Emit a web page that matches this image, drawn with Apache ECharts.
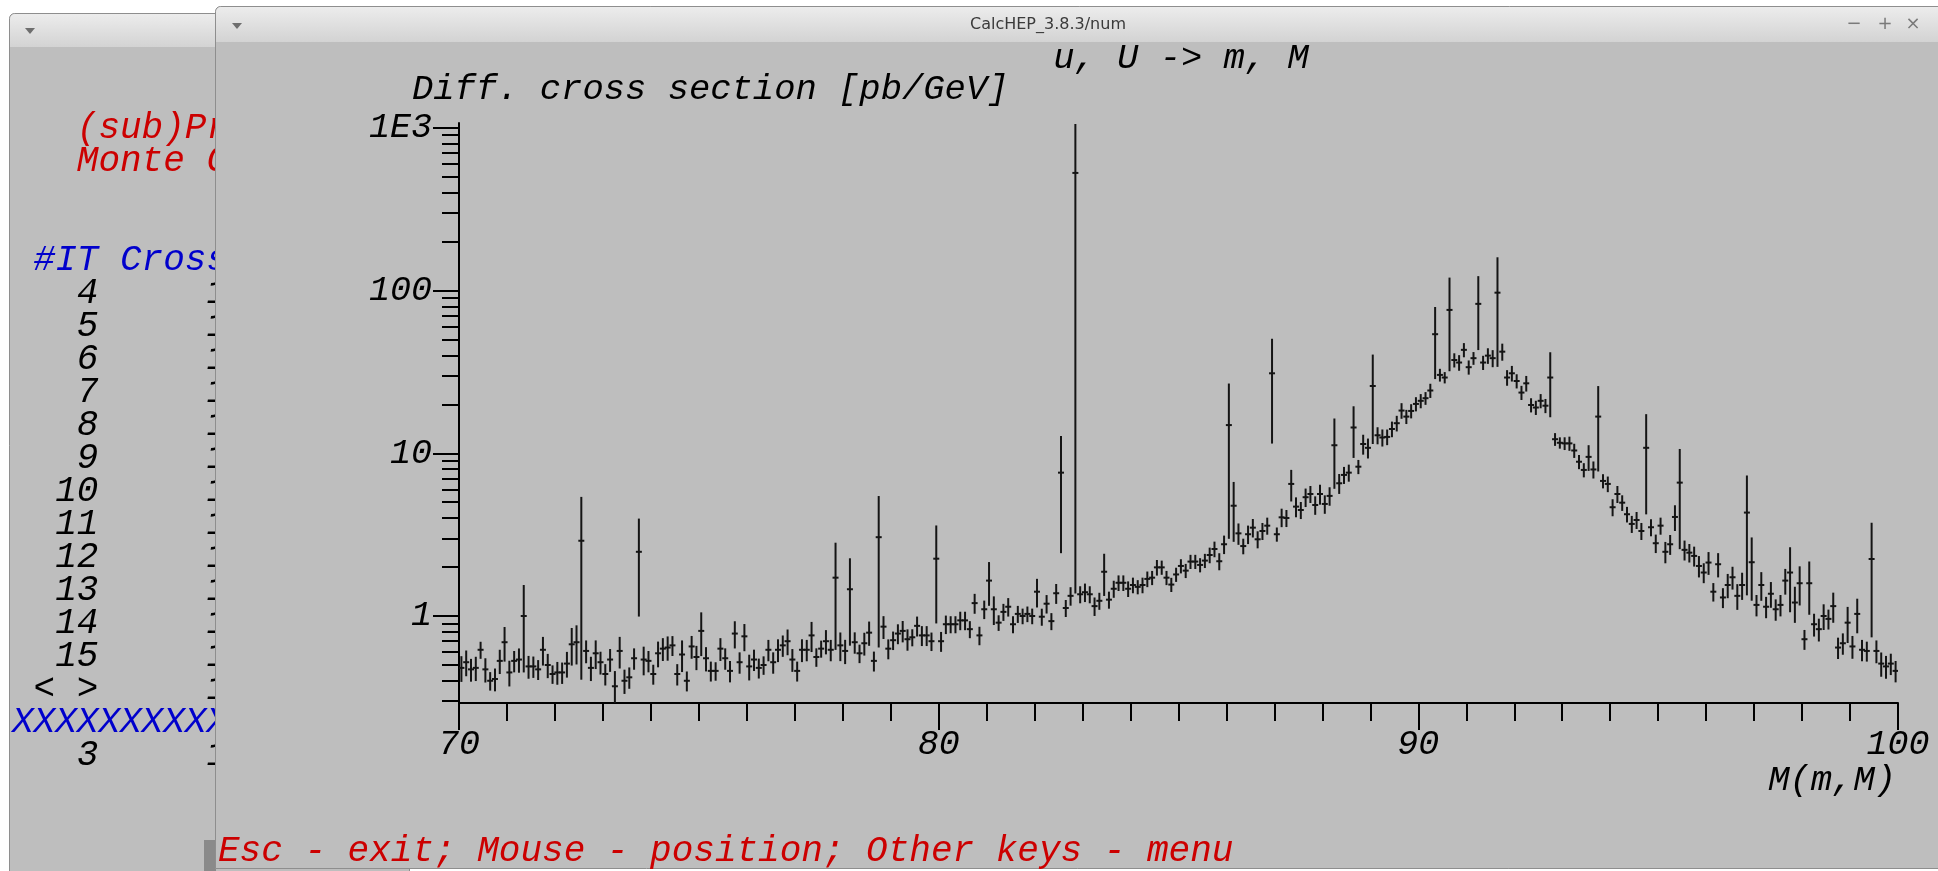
<!DOCTYPE html>
<html>
<head>
<meta charset="utf-8">
<title>CalcHEP_3.8.3/num</title>
<script src="https://cdn.jsdelivr.net/npm/echarts@6/dist/echarts.min.js"></script>
<style>
  html, body { margin: 0; padding: 0; background: #ffffff; }
  #chart { width: 1938px; height: 871px; }
</style>
</head>
<body>
<div id="chart"></div>
<script>
// histogram of M(m,M), 300 bins between 70 and 100 GeV
const massRange = [70, 100]

// Diff. cross section [pb/GeV], one value per bin
const crossSection = [
  0.48, 0.52, 0.47, 0.48, 0.62, 0.47, 0.40, 0.41, 0.53, 0.69,
  0.45, 0.53, 0.54, 1.00, 0.49, 0.49, 0.47, 0.62, 0.50, 0.44,
  0.45, 0.45, 0.51, 0.67, 0.69, 2.90, 0.61, 0.48, 0.59, 0.52,
  0.44, 0.54, 0.37, 0.61, 0.40, 0.42, 0.55, 2.48, 0.54, 0.53,
  0.44, 0.59, 0.63, 0.64, 0.66, 0.44, 0.58, 0.40, 0.65, 0.56,
  0.81, 0.55, 0.46, 0.46, 0.63, 0.55, 0.46, 0.78, 0.52, 0.75,
  0.49, 0.54, 0.48, 0.50, 0.62, 0.52, 0.62, 0.66, 0.70, 0.54,
  0.46, 0.62, 0.62, 0.76, 0.56, 0.63, 0.70, 0.62, 1.72, 0.66,
  0.61, 1.46, 0.69, 0.59, 0.68, 0.79, 0.53, 3.05, 0.86, 0.63,
  0.71, 0.78, 0.81, 0.72, 0.74, 0.87, 0.76, 0.76, 0.70, 2.25,
  0.70, 0.89, 0.89, 0.89, 0.94, 0.94, 0.83, 1.20, 0.76, 1.10,
  1.65, 1.10, 0.91, 1.06, 1.14, 0.89, 1.03, 1.00, 1.03, 1.00,
  1.41, 0.99, 1.19, 0.93, 1.38, 7.60, 1.12, 1.33, 528, 1.36,
  1.40, 1.36, 1.15, 1.24, 1.87, 1.26, 1.47, 1.60, 1.60, 1.47,
  1.55, 1.51, 1.55, 1.69, 1.72, 1.99, 1.99, 1.72, 1.56, 1.80,
  2.03, 1.90, 2.16, 2.16, 2.06, 2.19, 2.37, 2.58, 2.17, 2.76,
  14.9, 4.76, 3.22, 2.69, 3.18, 3.49, 2.96, 3.33, 3.59, 31.0,
  3.18, 4.04, 4.00, 6.48, 4.70, 4.48, 5.37, 5.62, 4.81, 5.62,
  4.88, 5.47, 11.2, 6.54, 7.36, 7.60, 14.4, 8.27, 11.4, 10.8,
  25.9, 12.9, 12.5, 12.6, 14.1, 15.3, 18.3, 16.8, 18.2, 20.1,
  21.0, 21.8, 24.3, 53.9, 30.3, 29.2, 76.0, 37.4, 36.1, 43.2,
  33.8, 38.4, 82.8, 36.1, 39.8, 38.4, 97.0, 42.1, 29.2, 31.0,
  27.8, 23.6, 26.9, 19.8, 19.1, 21.0, 19.6, 29.2, 12.2, 11.6,
  11.5, 11.5, 10.4, 8.87, 7.90, 9.50, 7.95, 16.8, 6.76, 6.48,
  4.66, 5.62, 4.97, 4.22, 3.68, 3.89, 3.33, 10.8, 3.51, 2.80,
  3.59, 2.48, 2.76, 4.06, 6.60, 2.55, 2.45, 2.34, 2.03, 1.85,
  2.13, 1.41, 2.08, 1.30, 1.55, 1.73, 1.33, 1.55, 4.32, 2.14,
  1.17, 1.55, 1.14, 1.37, 1.10, 1.17, 1.65, 1.85, 1.21, 1.59,
  0.72, 1.59, 0.89, 0.83, 1.00, 0.96, 1.15, 0.64, 0.68, 0.91,
  0.65, 1.03, 0.62, 0.61, 2.24, 0.61, 0.51, 0.49, 0.51, 0.46
]

// error of each bin in percent of its value
const relErrorPct = [
  18, 18, 16, 17, 12, 17, 13, 16, 17, 24,
  18, 15, 17, 55, 16, 15, 14, 20, 17, 13,
  16, 15, 18, 26, 27, 86, 16, 17, 20, 16,
  15, 16, 24, 22, 17, 15, 15, 60, 20, 15,
  14, 18, 16, 17, 14, 15, 22, 14, 16, 17,
  30, 17, 14, 13, 16, 15, 15, 19, 15, 19,
  18, 15, 14, 13, 15, 15, 16, 15, 18, 16,
  14, 16, 15, 21, 13, 12, 17, 15, 64, 20,
  17, 55, 15, 13, 16, 17, 14, 79, 16, 14,
  13, 14, 15, 15, 12, 14, 14, 14, 13, 60,
  14, 13, 12, 12, 13, 13, 12, 14, 13, 13,
  30, 20, 11, 12, 13, 12, 12, 11, 11, 11,
  20, 12, 13, 12, 14, 68, 12, 13, 99.74, 12,
  13, 12, 13, 12, 29, 12, 12, 11, 11, 11,
  11, 10, 11, 11, 10, 11, 10, 10, 10, 10,
  10, 10, 10, 10, 10, 10, 11, 11, 12, 13,
  80, 40, 15, 11, 13, 13, 12, 12, 12, 63,
  10, 13, 12, 22, 14, 12, 13, 12, 13, 14,
  13, 13, 46, 14, 12, 12, 35, 10, 14, 14,
  56, 12, 12, 11, 11, 11, 11, 10, 10, 10,
  10, 9, 10, 47, 9, 8, 58, 10, 11, 10,
  10, 9, 48, 10, 11, 12, 65, 12, 11, 11,
  10, 10, 11, 10, 10, 10, 10, 43, 9, 8,
  9, 10, 10, 10, 10, 18, 12, 54, 10, 11,
  12, 12, 11, 11, 12, 12, 12, 61, 12, 13,
  12, 15, 14, 18, 61, 14, 13, 14, 15, 14,
  16, 13, 17, 14, 17, 16, 18, 19, 69, 42,
  15, 20, 15, 18, 15, 15, 18, 43, 25, 27,
  14, 36, 16, 16, 18, 14, 21, 15, 15, 25,
  16, 24, 15, 14, 67, 16, 17, 16, 15, 15
]

// axes
const xMajorTicks = [70, 80, 90, 100]
const xMinorTicks = [71, 72, 73, 74, 75, 76, 77, 78, 79, 81, 82, 83, 84, 85, 86, 87, 88, 89,
  91, 92, 93, 94, 95, 96, 97, 98, 99]
const yRange = [0.292, 1070]
const yDecades = [1, 10, 100, 1000]
const yDecadeLabels = ['1', '10', '100', '1E3']
const yMinorTicks = [0.3, 0.4, 0.5, 0.6, 0.7, 0.8, 0.9,
  2, 3, 4, 5, 6, 7, 8, 9,
  20, 30, 40, 50, 60, 70, 80, 90,
  200, 300, 400, 500, 600, 700, 800, 900]

// texts of the terminal windows
const plotTitle = 'u, U -> m, M'
const yTitle = 'Diff. cross section [pb/GeV]'
const xTitle = 'M(m,M)'
const hintLine = 'Esc - exit; Mouse - position; Other keys - menu'
const windowTitle = 'CalcHEP_3.8.3/num'
const sessionLines = [
  { row: 0, color: '#cc0000', text: '   (sub)Process: u, U -> m, M' },
  { row: 1, color: '#cc0000', text: '   Monte Carlo session: 3(continue)' },
  { row: 4, color: '#0000cc', text: ' #IT Cross section [pb]  Error[%]' },
  { row: 5, color: '#000000', text: '   4     1.0552E+00     0.83' },
  { row: 6, color: '#000000', text: '   5     1.0541E+00     0.79' },
  { row: 7, color: '#000000', text: '   6     1.0577E+00     0.81' },
  { row: 8, color: '#000000', text: '   7     1.0569E+00     0.80' },
  { row: 9, color: '#000000', text: '   8     1.0560E+00     0.78' },
  { row: 10, color: '#000000', text: '   9     1.0548E+00     0.80' },
  { row: 11, color: '#000000', text: '  10     1.0571E+00     0.79' },
  { row: 12, color: '#000000', text: '  11     1.0566E+00     0.81' },
  { row: 13, color: '#000000', text: '  12     1.0553E+00     0.80' },
  { row: 14, color: '#000000', text: '  13     1.0562E+00     0.79' },
  { row: 15, color: '#000000', text: '  14     1.0558E+00     0.80' },
  { row: 16, color: '#000000', text: '  15     1.0564E+00     0.79' },
  { row: 17, color: '#000000', text: ' < >     1.0561E+00     0.21' },
  { row: 18, color: '#0000cc', text: 'XXXXXXXXXXXXXXXXXXXXXXXXXXXXXX' },
  { row: 19, color: '#000000', text: '   3     1.0561E+00     0.21' }
]

const MONO_FAMILY = '"Liberation Mono", "DejaVu Sans Mono", monospace'
const GRAY = '#bebebe'

const chart = echarts.init(document.getElementById('chart'), null, { renderer: 'canvas' })

const binWidth = (massRange[1] - massRange[0]) / crossSection.length
const points = crossSection.map((v, i) => {
  const err = v * relErrorPct[i] / 100
  return [
    massRange[0] + (i + 0.5) * binWidth,
    Math.log10(v),
    Math.log10(v - err),
    Math.log10(v + err)
  ]
})

function renderErrorCross(params, api) {
  const x = api.value(0)
  const mid = api.coord([x, api.value(1)])
  const lo = api.coord([x, api.value(2)])
  const hi = api.coord([x, api.value(3)])
  const halfW = api.size([binWidth, 0])[0] / 2 + 0.6
  const style = { stroke: '#141414', lineWidth: 2 }
  return {
    type: 'group',
    children: [
      { type: 'line', shape: { x1: mid[0], y1: lo[1], x2: mid[0], y2: hi[1] }, style: style },
      { type: 'line', shape: { x1: mid[0] - halfW, y1: mid[1], x2: mid[0] + halfW, y2: mid[1] }, style: style }
    ]
  }
}

function monoText(x, y, text, color, align, z, size) {
  return {
    type: 'text', x: x, y: y, z: z,
    style: {
      text: text, font: 'italic ' + (size || 35.5) + 'px ' + MONO_FAMILY, fill: color,
      align: align, textAlign: align,
      verticalAlign: 'middle', textVerticalAlign: 'middle'
    }
  }
}

function sansText(x, y, text, size, color) {
  return {
    type: 'text', z: -88, x: x, y: y,
    style: { text: text, font: size + 'px "DejaVu Sans", sans-serif', fill: color,
      align: 'center', textAlign: 'center', verticalAlign: 'middle', textVerticalAlign: 'middle' }
  }
}

const titleGradient = () => new echarts.graphic.LinearGradient(0, 0, 0, 1, [
  { offset: 0, color: '#ececec' },
  { offset: 1, color: '#d3d3d3' }
])

const graphics = [
  // back window
  { type: 'rect', z: -100, shape: { x: 9.5, y: 13.5, width: 400, height: 900, r: [5, 5, 0, 0] },
    style: { fill: GRAY, stroke: '#8e8e8e', lineWidth: 1 } },
  { type: 'rect', z: -99, shape: { x: 10, y: 14, width: 399, height: 33, r: [5, 5, 0, 0] },
    style: { fill: titleGradient() } },
  { type: 'polygon', z: -98, shape: { points: [[25, 28], [35, 28], [30, 34]] }, style: { fill: '#6e6e6e' } },
  { type: 'rect', z: -98, shape: { x: 204, y: 840, width: 12, height: 40 }, style: { fill: '#8a8a8a' } }
]
sessionLines.forEach(l => {
  graphics.push(monoText(12, 128 + 33 * l.row, l.text, l.color, 'left', -97, 36))
})
graphics.push(
  // front window
  { type: 'rect', z: -90, shape: { x: 215.5, y: 6.5, width: 1740, height: 862, r: [5, 5, 0, 0] },
    style: { fill: GRAY, stroke: '#8e8e8e', lineWidth: 1 } },
  { type: 'rect', z: -89, shape: { x: 216, y: 7, width: 1739, height: 35, r: [5, 5, 0, 0] },
    style: { fill: titleGradient() } },
  { type: 'polygon', z: -88, shape: { points: [[232, 23], [242, 23], [237, 29]] }, style: { fill: '#6e6e6e' } },
  sansText(1048, 25, windowTitle, 16, '#3a3a3a'),
  sansText(1854, 24, '\u2212', 18, '#7a7a7a'),
  sansText(1885, 24, '+', 18, '#7a7a7a'),
  sansText(1913, 24, '\u00d7', 18, '#7a7a7a'),
  monoText(1181, 59, plotTitle, '#000000', 'center', 10),
  monoText(412, 90, yTitle, '#000000', 'left', 10),
  monoText(1896, 781, xTitle, '#000000', 'right', 10),
  monoText(218, 851, hintLine, '#cc0000', 'left', 10, 36)
)

const axisFont = {
  fontFamily: MONO_FAMILY,
  fontStyle: 'italic',
  fontSize: 35,
  color: '#000'
}
const blackLine = { color: '#000', width: 2 }

const option = {
  backgroundColor: '#ffffff',
  animation: false,
  grid: { left: 459, right: 40, top: 123, bottom: 168, containLabel: false },
  xAxis: [
    {
      type: 'value', min: massRange[0], max: massRange[1], position: 'bottom',
      axisLine: { show: true, onZero: false, lineStyle: blackLine },
      axisTick: { show: true, inside: false, length: 27, lineStyle: blackLine, customValues: xMajorTicks },
      axisLabel: Object.assign({ margin: 24, customValues: xMajorTicks }, axisFont),
      splitLine: { show: false }
    },
    {
      type: 'value', min: massRange[0], max: massRange[1], position: 'bottom',
      axisLine: { show: false, onZero: false },
      axisTick: { show: true, inside: false, length: 18, lineStyle: blackLine, customValues: xMinorTicks },
      axisLabel: { show: false },
      splitLine: { show: false }
    }
  ],
  yAxis: [
    {
      type: 'value', min: Math.log10(yRange[0]), max: Math.log10(yRange[1]), position: 'left',
      axisLine: { show: true, onZero: false, lineStyle: blackLine },
      axisTick: { show: true, inside: false, length: 26, lineStyle: blackLine,
        customValues: yDecades.map(v => Math.log10(v)) },
      axisLabel: Object.assign({
        margin: 27,
        customValues: yDecades.map(v => Math.log10(v)),
        formatter: v => yDecadeLabels[Math.round(v)]
      }, axisFont),
      splitLine: { show: false }
    },
    {
      type: 'value', min: Math.log10(yRange[0]), max: Math.log10(yRange[1]), position: 'left',
      axisLine: { show: false, onZero: false },
      axisTick: { show: true, inside: false, length: 17, lineStyle: blackLine,
        customValues: yMinorTicks.map(v => Math.log10(v)) },
      axisLabel: { show: false },
      splitLine: { show: false }
    }
  ],
  graphic: { elements: graphics },
  series: [
    {
      name: 'Diff. cross section',
      type: 'custom',
      xAxisIndex: 0,
      yAxisIndex: 0,
      clip: true,
      renderItem: renderErrorCross,
      encode: { x: 0, y: 1 },
      data: points,
      z: 5
    }
  ]
}

chart.setOption(option, true)
</script>
</body>
</html>
